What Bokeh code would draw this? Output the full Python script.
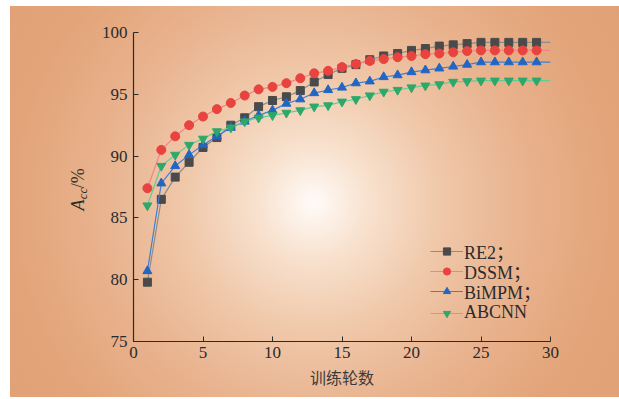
from bokeh.plotting import figure
from bokeh.models import Legend, LegendItem, Label, FixedTicker, Range1d
from bokeh.embed import file_html
from bokeh.resources import INLINE
import math

epochs = list(range(1, 31))
re2 = [79.8, 86.5, 88.3, 89.5, 90.7, 91.5, 92.5, 93.1, 94.0, 94.5,
       94.8, 95.3, 96.0, 96.6, 97.1, 97.4, 97.8, 98.1, 98.3, 98.55,
       98.7, 98.9, 99.0, 99.1, 99.2, 99.2, 99.2, 99.2, 99.2, 99.2]
dssm = [87.4, 90.5, 91.6, 92.5, 93.2, 93.8, 94.3, 94.9, 95.4, 95.6,
        95.9, 96.3, 96.7, 96.9, 97.2, 97.45, 97.7, 97.85, 98.0, 98.1,
        98.25, 98.3, 98.4, 98.5, 98.55, 98.55, 98.55, 98.55, 98.55, 98.55]
bimpm = [80.7, 87.8, 89.2, 90.1, 90.9, 91.6, 92.3, 92.8, 93.3, 93.7,
         94.25, 94.6, 95.1, 95.35, 95.55, 95.9, 96.05, 96.4, 96.55, 96.8,
         96.95, 97.1, 97.25, 97.4, 97.6, 97.6, 97.6, 97.6, 97.6, 97.6]
abcnn = [86.0, 89.2, 90.1, 90.9, 91.4, 92.0, 92.3, 92.8, 93.1, 93.3,
         93.5, 93.7, 94.0, 94.1, 94.4, 94.6, 94.9, 95.2, 95.35, 95.55,
         95.7, 95.8, 96.0, 96.05, 96.1, 96.1, 96.1, 96.1, 96.1, 96.1]
series_names = ["RE2；", "DSSM；", "BiMPM；", "ABCNN"]
x_ticks = [0, 5, 10, 15, 20, 25, 30]
y_ticks = [75, 80, 85, 90, 95, 100]
y_label_parts = ["A", "cc", "/%"]

SERIF = "'Liberation Serif', 'Noto Sans CJK SC'"
INK = "#2b2b2b"

p = figure(width=609, height=391, output_backend="svg", toolbar_location=None,
           x_range=Range1d(0, 30), y_range=Range1d(75, 100),
           min_border_left=123, min_border_right=69, min_border_top=26, min_border_bottom=56)
p.margin = (6, 0, 0, 10)
p.styles = {"background": "radial-gradient(circle at 303px 197px, #fffbf8 0px, #f8e2cf 55px, #f0c9ab 125px, #e9b490 205px, #e3a479 300px, #e1a076 400px)"}
p.border_fill_color = None
p.background_fill_color = None
p.outline_line_color = None
p.grid.visible = False

for ax in (p.xaxis, p.yaxis):
    ax.axis_line_color = INK
    ax.axis_line_width = 1.2
    ax.major_tick_line_color = INK
    ax.major_tick_in = 5
    ax.major_tick_out = 0
    ax.minor_tick_line_color = None
    ax.major_label_text_font = SERIF
    ax.major_label_text_font_size = "17px"
    ax.major_label_text_color = INK

p.xaxis.ticker = FixedTicker(ticks=x_ticks)
p.yaxis.ticker = FixedTicker(ticks=y_ticks)
p.xaxis.major_label_standoff = 5
p.yaxis.major_label_standoff = 6
p.xaxis.axis_label = "训练轮数"
p.xaxis.axis_label_text_font = "Noto Sans CJK SC"
p.xaxis.axis_label_text_font_style = "normal"
p.xaxis.axis_label_text_font_size = "16px"
p.xaxis.axis_label_text_color = "#3a3a3a"
p.xaxis.axis_label_standoff = 4

# y-axis label A_cc/%  (rotated text pieces, placed in the left side panel so they are not clipped)
lab_common = dict(angle=math.pi / 2, text_baseline="middle", text_align="left",
                  text_color=INK, text_font="Liberation Serif")
p.add_layout(Label(x=-3.96, y=85.6, text=y_label_parts[0], text_font_style="italic",
                   text_font_size="18px", **lab_common), "left")
p.add_layout(Label(x=-3.68, y=86.5, text=y_label_parts[1], text_font_style="italic",
                   text_font_size="13px", **lab_common), "left")
p.add_layout(Label(x=-3.96, y=87.4, text=y_label_parts[2], text_font_style="normal",
                   text_font_size="18px", **lab_common), "left")

styles = [
    (re2, "#8c8c8c", "#4a4a4a", "square", 8),
    (dssm, "#f08585", "#e8433f", "circle", 9),
    (bimpm, "#3d80d4", "#2266c2", "triangle", 9),
    (abcnn, "#62cc95", "#2ea86a", "inverted_triangle", 9),
]
legend_y = [77, 57, 37, 18]
for name, (vals, lc, mc, marker, sz), ly in zip(series_names, styles, legend_y):
    lr = p.line(epochs, vals, line_color=lc, line_width=1.2)
    sr = p.scatter(epochs[:-1], vals[:-1], marker=marker, size=sz,
                   fill_color=mc, line_color=mc)
    lg = Legend(items=[LegendItem(label=name, renderers=[lr, sr])],
                location=(297, ly), padding=0, margin=0, spacing=0,
                glyph_width=33, glyph_height=18, label_height=18, label_standoff=1,
                label_text_font=SERIF, label_text_font_size="18px",
                label_text_color=INK, background_fill_alpha=0, border_line_color=None)
    p.add_layout(lg)

open("out.html", "w").write(file_html(p, INLINE))
